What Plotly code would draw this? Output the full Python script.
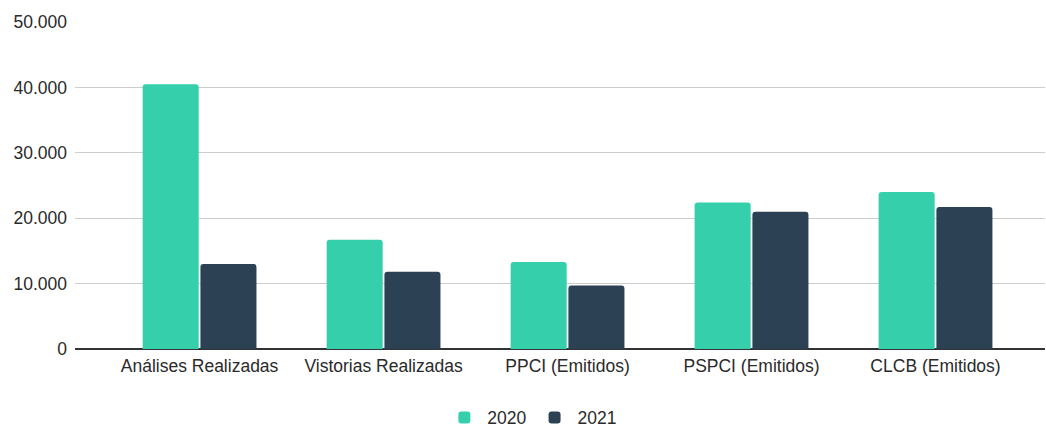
import plotly.graph_objects as go

categories = ["Análises Realizadas", "Vistorias Realizadas", "PPCI (Emitidos)", "PSPCI (Emitidos)", "CLCB (Emitidos)"]
values_2020 = [40500, 16700, 13300, 22400, 24000]
values_2021 = [13000, 11800, 9700, 21000, 21700]
y_ticks = [0, 10000, 20000, 30000, 40000, 50000]

fig = go.Figure()
fig.add_trace(go.Bar(name="2020", x=categories, y=values_2020, marker=dict(color="#35CFAB", line=dict(width=0))))
fig.add_trace(go.Bar(name="2021", x=categories, y=values_2021, marker=dict(color="#2D4155", line=dict(width=0))))

font_family = "Arial, 'Liberation Sans', sans-serif"
txt = "#2A2A2A"
fs = 17.5
fig.update_layout(
    width=1046, height=427,
    margin=dict(l=75, r=1, t=22, b=78, autoexpand=False),
    paper_bgcolor="white", plot_bgcolor="white",
    barmode="group", bargap=0.372, bargroupgap=0.03, barcornerradius=3,
    separators=",.",
    font=dict(family=font_family, size=fs, color=txt),
    showlegend=True,
    legend=dict(orientation="h", x=0.471, xanchor="center", y=-0.21, yanchor="middle",
                font=dict(size=fs, color=txt), itemwidth=36, tracegroupgap=0),
    xaxis=dict(range=[-0.677, 4.595], showgrid=False, ticks="", showline=False, zeroline=False,
               automargin=False, ticklabelstandoff=4, tickfont=dict(size=fs, color=txt)),
    yaxis=dict(range=[0, 50000], tickvals=y_ticks, tickformat=",d", showgrid=True, gridcolor="#CCCCCC",
               gridwidth=1, zeroline=True, zerolinecolor="#333333", zerolinewidth=1.5, showline=False,
               automargin=False, ticks="", ticklen=0, ticklabelstandoff=7, tickfont=dict(size=fs, color=txt)),
)

fig.write_html("out.html", config={"displayModeBar": False},
               post_script="document.body.style.margin='0';document.body.style.overflow='hidden';")
